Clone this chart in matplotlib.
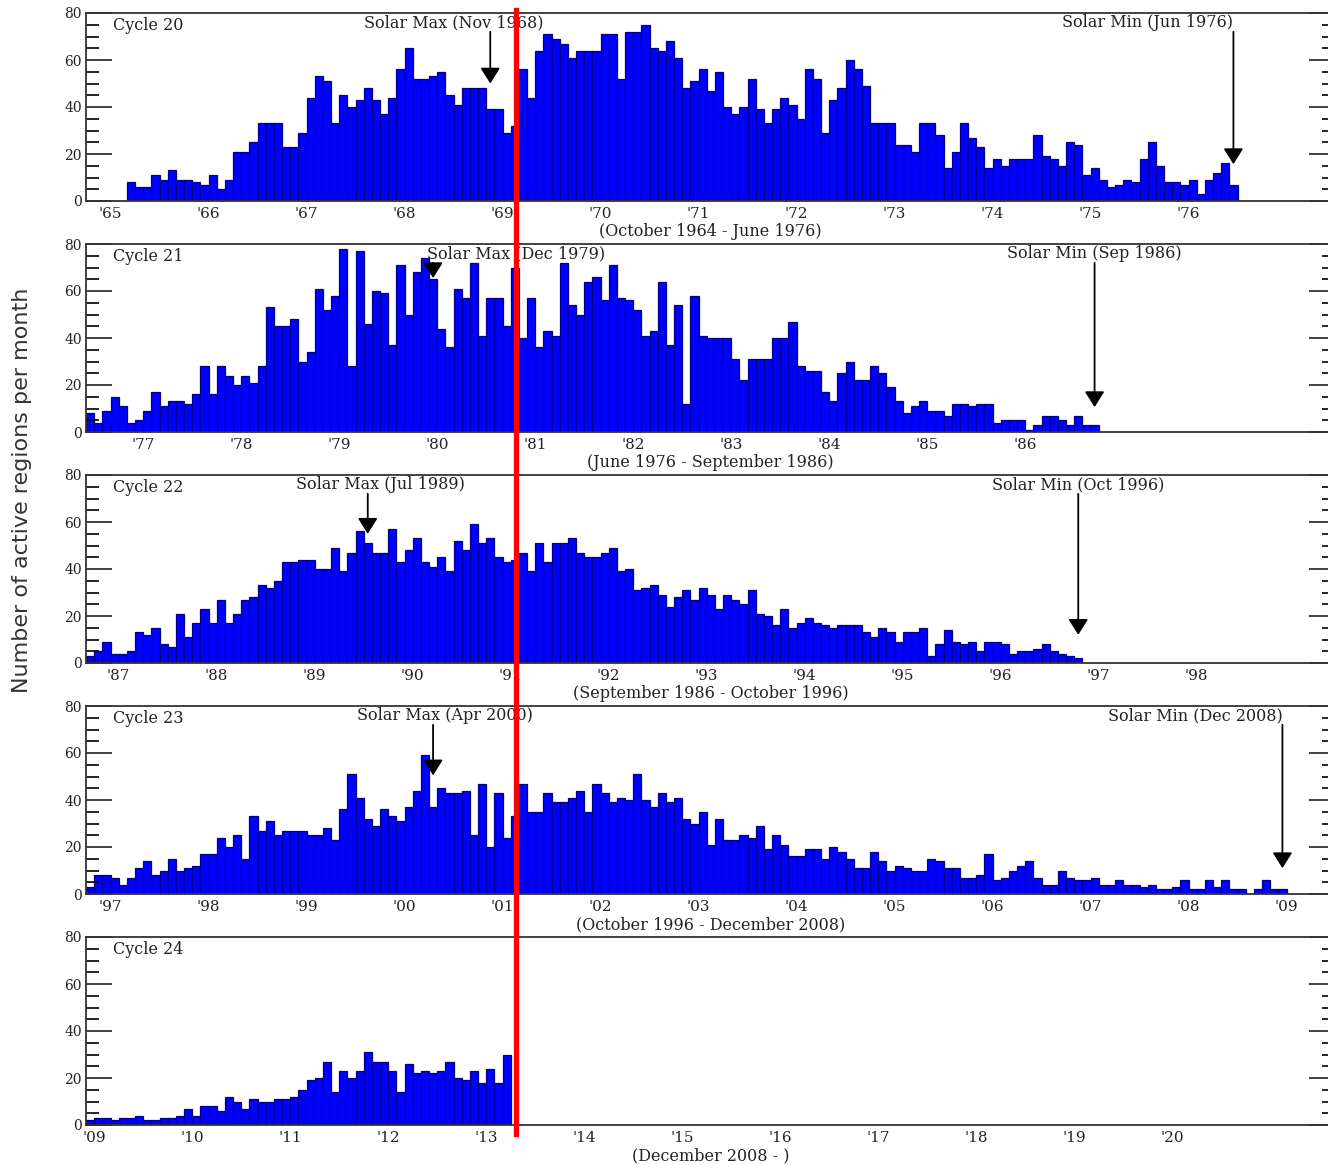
import matplotlib
matplotlib.use("Agg")
import matplotlib.pyplot as plt
import numpy as np
from matplotlib.lines import Line2D
from matplotlib.ticker import MultipleLocator
from matplotlib.transforms import blended_transform_factory

# --- data (monthly counts of new active regions) ---
cycle_names = ["Cycle 20", "Cycle 21", "Cycle 22", "Cycle 23", "Cycle 24"]
range_labels = ["(October 1964 - June 1976)", "(June 1976 - September 1986)",
                "(September 1986 - October 1996)", "(October 1996 - December 2008)",
                "(December 2008 - )"]
start_years = [1964 + 9 / 12, 1976 + 5 / 12, 1986 + 8 / 12, 1996 + 9 / 12, 2008 + 11 / 12]
tick_years = [list(range(1965, 1977)), list(range(1977, 1987)), list(range(1987, 1999)),
              list(range(1997, 2010)), list(range(2009, 2021))]

cycle20 = [0, 0, 0, 0, 0,
           8, 6, 6, 11, 9, 13, 9, 9, 8, 7, 11, 5, 9, 21, 21, 25, 33, 33, 33, 23,
           23, 29, 44, 53, 51, 33, 45, 40, 43, 48, 43, 37, 44, 56, 65, 52, 52, 53, 55, 45,
           41, 48, 48, 48, 39, 39, 29, 32,
           56, 44, 64, 71, 69, 67, 61, 64, 64, 64, 71, 71, 52, 72, 72, 75, 65, 64, 68, 61,
           48, 51, 56, 47, 55, 40, 37, 40, 52, 39, 33, 39, 44, 41, 35, 56, 52, 29, 43, 48,
           60, 56, 49, 33, 33, 33, 24, 24, 21, 33, 33, 28,
           14, 21, 33, 27, 23, 14, 18, 15, 18, 18, 18, 28, 19, 18, 15, 25, 24, 11, 14, 9,
           6, 7, 9, 8, 18, 25, 15, 8, 8, 7, 9, 3, 9, 12, 16, 7]
cycle21 = [8, 4, 9, 15, 11, 4, 5, 9, 17, 11, 13, 13, 12, 16, 28, 16, 28, 24, 20, 24,
           21, 28, 53, 45, 45, 48, 30, 34, 61, 52, 58, 78, 28, 77, 46, 60, 59, 37, 71, 50,
           68, 74, 65, 44, 36, 61, 57, 72, 41, 57, 57, 45, 70, 40, 57,
           36, 43, 41, 72, 54, 50, 64, 66, 56, 71, 57, 56, 52, 41, 43, 64, 37, 54, 12, 58,
           41, 40, 40, 40, 31, 22, 31, 31, 31, 40, 40, 47, 28, 26, 26, 17, 13, 25, 30, 22,
           22, 28, 25, 19, 13, 8, 11, 13, 9,
           9, 7, 12, 12, 11, 12, 12, 4, 5, 5, 5, 1, 3, 7, 7, 5, 3, 7, 3, 3]
cycle22 = [3, 5, 9, 4, 4, 5, 13, 12, 15, 8, 7, 21, 11, 17, 23, 17, 27, 17, 21, 27,
           28, 33, 32, 35, 43, 43, 44, 44, 40, 40, 49, 39, 47, 56, 51, 47, 47, 57, 43, 48,
           53, 43, 41, 45, 39, 52, 48, 59, 51, 53, 45, 43, 44, 47, 39,
           51, 43, 51, 51, 53, 47, 45, 45, 47, 49, 39, 40, 31, 32, 33, 29, 24, 28, 31, 27,
           32, 29, 23, 29, 27, 25, 31, 21, 20, 16, 23, 15, 17, 19, 17, 16, 15, 16, 16, 16,
           13, 11, 15, 13, 9, 13, 13, 15, 3, 8,
           14, 9, 8, 9, 5, 9, 9, 8, 4, 5, 5, 6, 8, 5, 4, 3, 2]
cycle23 = [3, 8, 8, 7, 4, 7, 11, 14, 8, 10, 15, 10, 11, 12, 17, 17, 24, 20, 25, 15,
           33, 27, 31, 25, 27, 27, 27, 25, 25, 28, 23, 36, 51, 41, 32, 29, 36, 33, 31, 37,
           44, 59, 37, 45, 43, 43, 44, 25, 47, 20, 43, 24, 33, 47, 35,
           35, 43, 39, 39, 41, 44, 35, 47, 43, 39, 41, 40, 51, 40, 37, 43, 39, 41, 32, 30,
           35, 21, 32, 23, 23, 25, 24, 29, 19, 25, 21, 16, 16, 19, 19, 15, 20, 18, 15, 11,
           11, 18, 14, 10, 12, 11, 10, 10, 15,
           14, 11, 11, 7, 7, 8, 17, 6, 7, 10, 12, 14, 7, 4, 4, 10, 7, 6, 6, 7,
           4, 4, 6, 4, 4, 3, 4, 2, 2, 3, 6, 2, 2, 6, 3, 6, 2, 2, 0, 2, 6, 2, 2]
cycle24 = [2, 3, 3, 2, 3, 3, 4, 2, 2, 3, 3, 4, 7, 4, 8, 8, 6, 12, 10, 7,
           11, 10, 10, 11, 11, 12, 15, 19, 20, 27, 14, 23, 20, 23, 31, 27, 27, 23, 14, 26,
           22, 23, 22, 23, 27, 20, 19, 23, 18, 24, 18, 30]
counts = [cycle20, cycle21, cycle22, cycle23, cycle24]

max_labels = ["Solar Max (Nov 1968)", "Solar Max (Dec 1979)", "Solar Max (Jul 1989)", "Solar Max (Apr 2000)"]
max_dates = [1968 + 10 / 12, 1979 + 11 / 12, 1989 + 6 / 12, 2000 + 3 / 12]
max_tips = [50, 65.5, 55, 50.5]
min_labels = ["Solar Min (Jun 1976)", "Solar Min (Sep 1986)", "Solar Min (Oct 1996)", "Solar Min (Dec 2008)"]
min_dates = [1976 + 5 / 12, 1986 + 8 / 12, 1996 + 9 / 12, 2008 + 11 / 12]
min_tips = [15.7, 10.6, 12, 11]
today = 2013 + 3.6 / 12

# label offsets (pixels) of the max/min texts relative to their arrows
max_dx = [-37, 83, 13, 12]
min_dx = [-86, 0, 0, -87]

plt.rcParams["font.family"] = "DejaVu Serif"
W, H = 1328, 1165
fig = plt.figure(figsize=(W / 100, H / 100), dpi=100)

span = 12.75
axes = []
for k in range(5):
    bottom_px = 201 + 231 * k
    ax = fig.add_axes([86 / W, 1 - bottom_px / H, span * 98 / W, 188 / H])
    axes.append(ax)
    x0 = start_years[k]
    vals = counts[k]
    x = x0 + np.arange(len(vals)) / 12
    ax.bar(x, vals, width=1 / 12, align="edge", color="#0000ff",
           edgecolor="#00008b", linewidth=0.9)
    ax.set_xlim(x0, x0 + span)
    ax.set_ylim(0, 80)

    ax.yaxis.set_major_locator(MultipleLocator(20))
    ax.yaxis.set_minor_locator(MultipleLocator(5))
    ax.tick_params(axis="y", which="major", direction="in", length=19, width=1.2,
                   left=True, right=True, labelsize=10, pad=3, colors="#222222")
    ax.tick_params(axis="y", which="minor", direction="in", length=9.5, width=1.2,
                   left=True, right=True)
    yl = ax.get_yticklabels()
    yl[0].set_va("bottom")
    yl[-1].set_va("top")

    ax.set_xticks(tick_years[k])
    ax.set_xticklabels(["'%02d" % (y % 100) for y in tick_years[k]])
    ax.tick_params(axis="x", direction="in", length=0, labelsize=11, pad=4,
                   colors="#222222")
    ax.set_xlabel(range_labels[k], fontsize=11.5, labelpad=2, color="#222222")

    for s in ax.spines.values():
        s.set_linewidth(1.3)
        s.set_color("#333333")

    ax.text(27 / (span * 98), 0.936, cycle_names[k], transform=ax.transAxes,
            fontsize=11.5, va="center", ha="left", color="#222222")

    if k < 4:
        for lab, d, tip, dx in [(max_labels[k], max_dates[k], max_tips[k], max_dx[k]),
                                (min_labels[k], min_dates[k], min_tips[k], min_dx[k])]:
            xa = d + 1 / 24
            ax.annotate(lab, xy=(xa, 76), xytext=(dx, 0), textcoords="offset pixels",
                        ha="center", va="center", fontsize=11.5, color="#222222")
            ax.annotate("", xy=(xa, tip), xytext=(xa, 72),
                        arrowprops=dict(arrowstyle="-|>,head_length=0.95,head_width=0.6",
                                        mutation_scale=10, color="black", lw=1.3,
                                        shrinkA=0, shrinkB=0))

fig.text(22 / W, 1 - 490 / H, "Number of active regions per month", rotation=90,
         ha="center", va="center", fontsize=16, family="DejaVu Sans", color="#333333")

# red line marking the current date, across all panels
trans = blended_transform_factory(axes[4].transData, fig.transFigure)
fig.add_artist(Line2D([today, today], [1 - 10 / H, 1 - 1134 / H], transform=trans,
                      color="#ff0000", lw=3.8, zorder=20))

fig.savefig("out.png", dpi=100)
